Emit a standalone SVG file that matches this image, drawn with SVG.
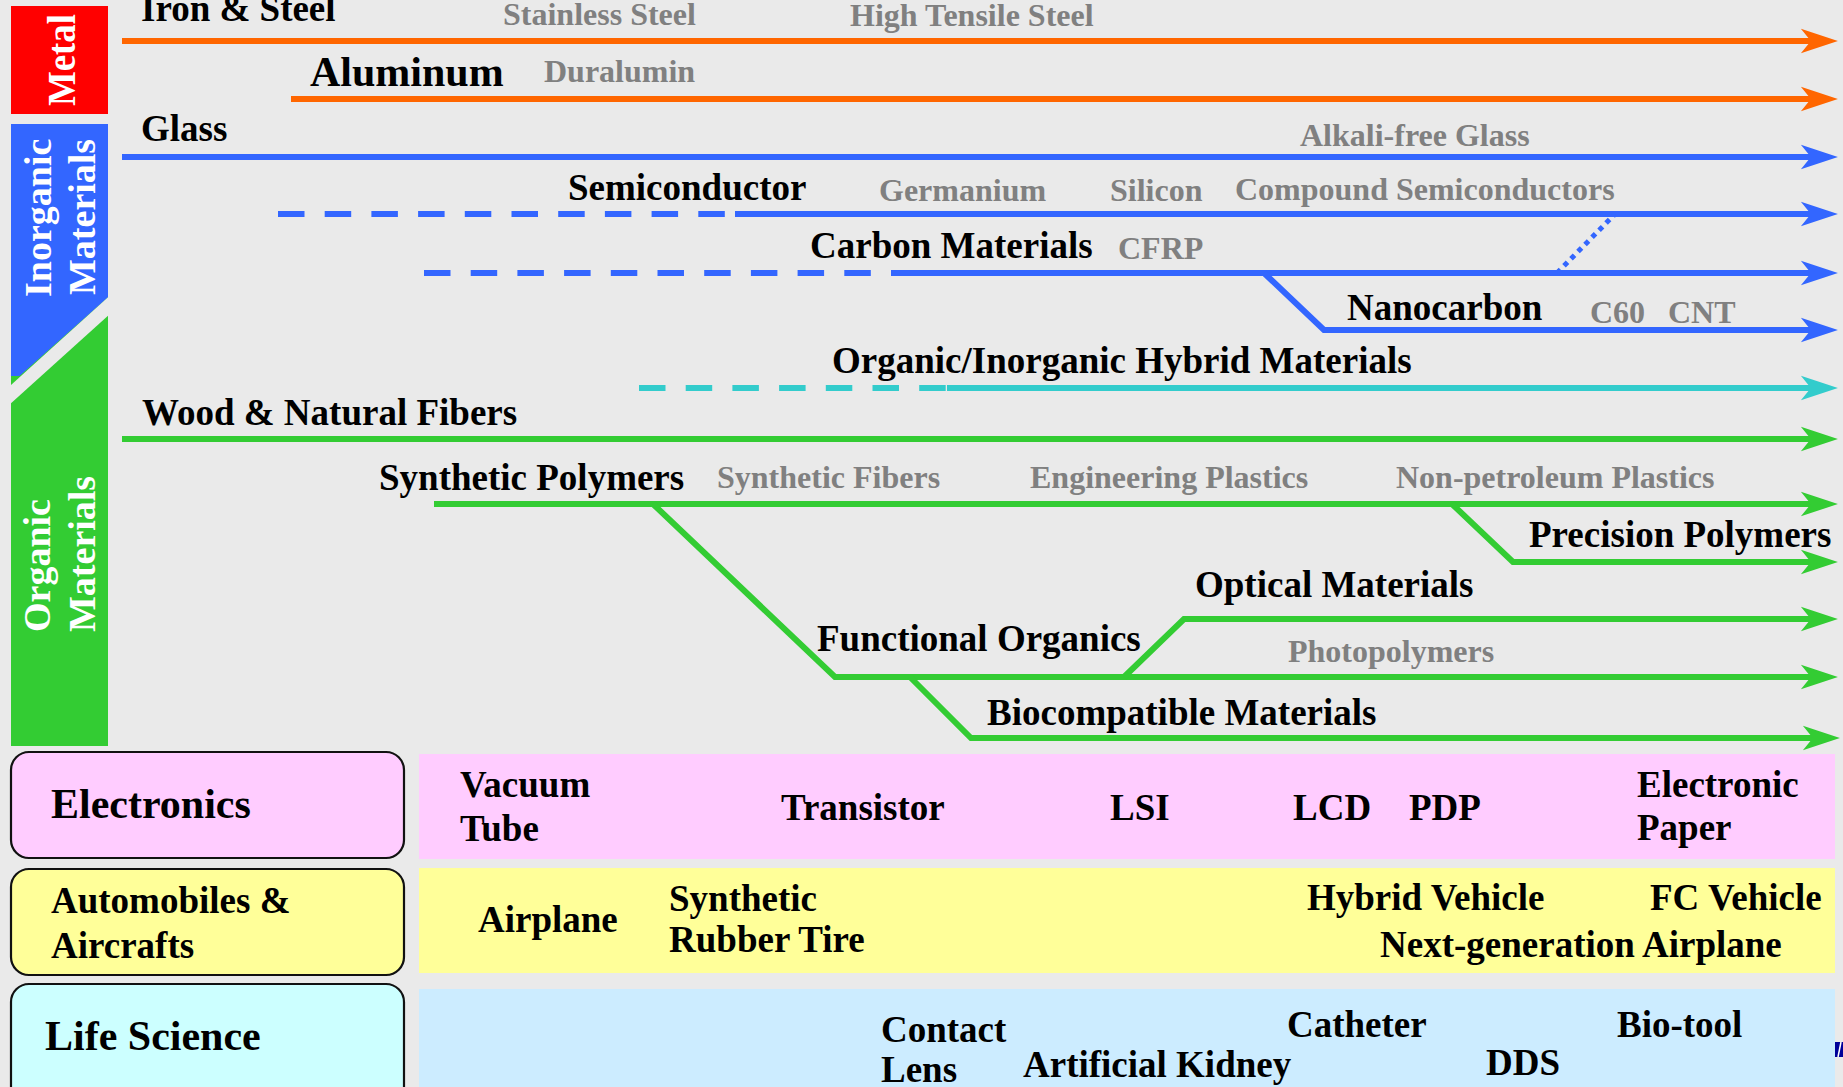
<svg xmlns="http://www.w3.org/2000/svg" width="1843" height="1087" viewBox="0 0 1843 1087">
<style>
text{font-family:"Liberation Serif","Times New Roman",serif;font-weight:bold}
.m{font-size:37px;fill:#000}
.a{font-size:42px;fill:#000}
.g{font-size:32px;fill:#808080}
.c{font-size:38px;fill:#fff}
.ln{fill:none;stroke-width:6}
.o{stroke:#FF6600}.b{stroke:#3366FF}.cy{stroke:#33CCCC}.gr{stroke:#33CC33}
.d{stroke-dasharray:26.5 20.2}
.box{stroke:#111;stroke-width:2.2}
</style>
<defs>
<marker id="ao" markerUnits="userSpaceOnUse" markerWidth="40" markerHeight="30" viewBox="-1 -12 34 24" refX="12" refY="0" orient="auto"><path d="M0,-10.5 L31.5,0 L0,10.5 L8.5,0 Z" fill="#FF6600"/></marker>
<marker id="ab" markerUnits="userSpaceOnUse" markerWidth="40" markerHeight="30" viewBox="-1 -12 34 24" refX="12" refY="0" orient="auto"><path d="M0,-10.5 L31.5,0 L0,10.5 L8.5,0 Z" fill="#3366FF"/></marker>
<marker id="ac" markerUnits="userSpaceOnUse" markerWidth="40" markerHeight="30" viewBox="-1 -12 34 24" refX="12" refY="0" orient="auto"><path d="M0,-10.5 L31.5,0 L0,10.5 L8.5,0 Z" fill="#33CCCC"/></marker>
<marker id="ag" markerUnits="userSpaceOnUse" markerWidth="40" markerHeight="30" viewBox="-1 -12 34 24" refX="12" refY="0" orient="auto"><path d="M0,-10.5 L31.5,0 L0,10.5 L8.5,0 Z" fill="#33CC33"/></marker>
</defs>
<rect width="1843" height="1087" fill="#EAEAEA"/>

<g id="cat-metal">
<rect x="11" y="6" width="97" height="108" fill="#FF0000"/>
<text class="c" transform="translate(75,106) rotate(-90)" textLength="92" lengthAdjust="spacingAndGlyphs" style="font-size:40px">Metal</text>
</g>
<g id="cat-organic">
<rect x="11" y="290" width="97" height="456" fill="#33CC33"/>
<text class="c" transform="translate(50,632) rotate(-90)">Organic</text>
<text class="c" transform="translate(95,632) rotate(-90)">Materials</text>
</g>
<g id="cat-inorganic">
<polygon points="11,124 108,124 108,297.3 19.5,376 11,376" fill="#3366FF"/>
<polygon points="108,297.3 108,315.7 11,403.3 11,385" fill="#EAEAEA"/>
<text class="c" transform="translate(51,297) rotate(-90)">Inorganic</text>
<text class="c" transform="translate(95,295) rotate(-90)">Materials</text>
</g>

<g id="connectors">
<path class="ln o" d="M122,41 H1815" marker-end="url(#ao)"/>
<path class="ln o" d="M291,99 H1815" marker-end="url(#ao)"/>
<path class="ln b" d="M122,157 H1815" marker-end="url(#ab)"/>
<path class="ln b d" d="M278,214 H725"/>
<path class="ln b" d="M735,214 H1815" marker-end="url(#ab)"/>
<path class="ln b d" d="M424,273 H871"/>
<path class="ln b" d="M891,273 H1815" marker-end="url(#ab)"/>
<path class="ln b" d="M1264,273 L1324,330 H1815" marker-end="url(#ab)"/>
<path class="b" d="M1557,273 L1615,214" fill="none" stroke-width="5" stroke-dasharray="5 5"/>
<path class="ln cy d" d="M639,388 H946"/>
<path class="ln cy" d="M947,388 H1815" marker-end="url(#ac)"/>
<path class="ln gr" d="M122,439 H1815" marker-end="url(#ag)"/>
<path class="ln gr" d="M434,504 H1815" marker-end="url(#ag)"/>
<path class="ln gr" d="M1452,504 L1513,562 H1815" marker-end="url(#ag)"/>
<path class="ln gr" d="M653,504 L835,677 H1815" marker-end="url(#ag)"/>
<path class="ln gr" d="M1124,677 L1184,619 H1815" marker-end="url(#ag)"/>
<path class="ln gr" d="M910,677 L971,738 H1817" marker-end="url(#ag)"/>
</g>

<g id="n-iron"><text class="m" x="141" y="21">Iron &amp; Steel</text><text class="g" x="503" y="25">Stainless Steel</text><text class="g" x="850" y="26">High Tensile Steel</text></g>
<g id="n-aluminum"><text class="a" x="310" y="86">Aluminum</text><text class="g" x="544" y="82">Duralumin</text></g>
<g id="n-glass"><text class="m" x="141" y="141">Glass</text><text class="g" x="1300" y="146">Alkali-free Glass</text></g>
<g id="n-semi"><text class="m" x="568" y="200">Semiconductor</text><text class="g" x="879" y="201">Germanium</text><text class="g" x="1110" y="201">Silicon</text><text class="g" x="1235" y="200">Compound Semiconductors</text></g>
<g id="n-carbon"><text class="m" x="810" y="258">Carbon Materials</text><text class="g" x="1118" y="259">CFRP</text></g>
<g id="n-nano"><text class="m" x="1347" y="320">Nanocarbon</text><text class="g" x="1590" y="323">C60</text><text class="g" x="1668" y="323">CNT</text></g>
<g id="n-hybrid"><text class="m" x="832" y="373">Organic/Inorganic Hybrid Materials</text></g>
<g id="n-wood"><text class="m" x="142" y="425">Wood &amp; Natural Fibers</text></g>
<g id="n-synth"><text class="m" x="379" y="490">Synthetic Polymers</text><text class="g" x="717" y="488">Synthetic Fibers</text><text class="g" x="1030" y="488">Engineering Plastics</text><text class="g" x="1396" y="488">Non-petroleum Plastics</text></g>
<g id="n-precision"><text class="m" x="1529" y="547">Precision Polymers</text></g>
<g id="n-optical"><text class="m" x="1195" y="597">Optical Materials</text></g>
<g id="n-functional"><text class="m" x="817" y="651">Functional Organics</text><text class="g" x="1288" y="662">Photopolymers</text></g>
<g id="n-bio"><text class="m" x="987" y="725">Biocompatible Materials</text></g>

<g id="app-electronics">
<rect class="box" x="11" y="752" width="393" height="106" rx="18" fill="#FFCCFF"/>
<text class="a" x="51" y="818">Electronics</text>
<rect x="419" y="754" width="1416" height="105" fill="#FFCCFF"/>
<text class="m" x="460" y="797">Vacuum</text><text class="m" x="460" y="841">Tube</text>
<text class="m" x="781" y="820">Transistor</text>
<text class="m" x="1110" y="820">LSI</text>
<text class="m" x="1293" y="820">LCD</text>
<text class="m" x="1409" y="820">PDP</text>
<text class="m" x="1637" y="797">Electronic</text><text class="m" x="1637" y="840">Paper</text>
</g>
<g id="app-auto">
<rect class="box" x="11" y="869" width="393" height="106" rx="18" fill="#FFFF99"/>
<text class="m" x="51" y="913">Automobiles &amp;</text><text class="m" x="51" y="958">Aircrafts</text>
<rect x="419" y="868" width="1416" height="105" fill="#FFFF99"/>
<text class="m" x="478" y="932">Airplane</text>
<text class="m" x="669" y="911">Synthetic</text><text class="m" x="669" y="952">Rubber Tire</text>
<text class="m" x="1307" y="910">Hybrid Vehicle</text>
<text class="m" x="1650" y="910">FC Vehicle</text>
<text class="m" x="1380" y="957">Next-generation Airplane</text>
</g>
<g id="app-life">
<rect class="box" x="11" y="984" width="393" height="130" rx="18" fill="#CCFFFF"/>
<text class="a" x="45" y="1050">Life Science</text>
<rect x="419" y="989" width="1416" height="110" fill="#CCECFF"/>
<text class="m" x="881" y="1042">Contact</text><text class="m" x="881" y="1082">Lens</text>
<text class="m" x="1023" y="1077">Artificial Kidney</text>
<text class="m" x="1287" y="1037">Catheter</text>
<text class="m" x="1486" y="1075">DDS</text>
<text class="m" x="1617" y="1037">Bio-tool</text>
<polygon points="1835,1042 1843,1042 1843,1057 1835,1057" fill="#000099"/>
<path d="M1841,1042 L1838,1057" stroke="#fff" stroke-width="1.5"/>
</g>
</svg>
